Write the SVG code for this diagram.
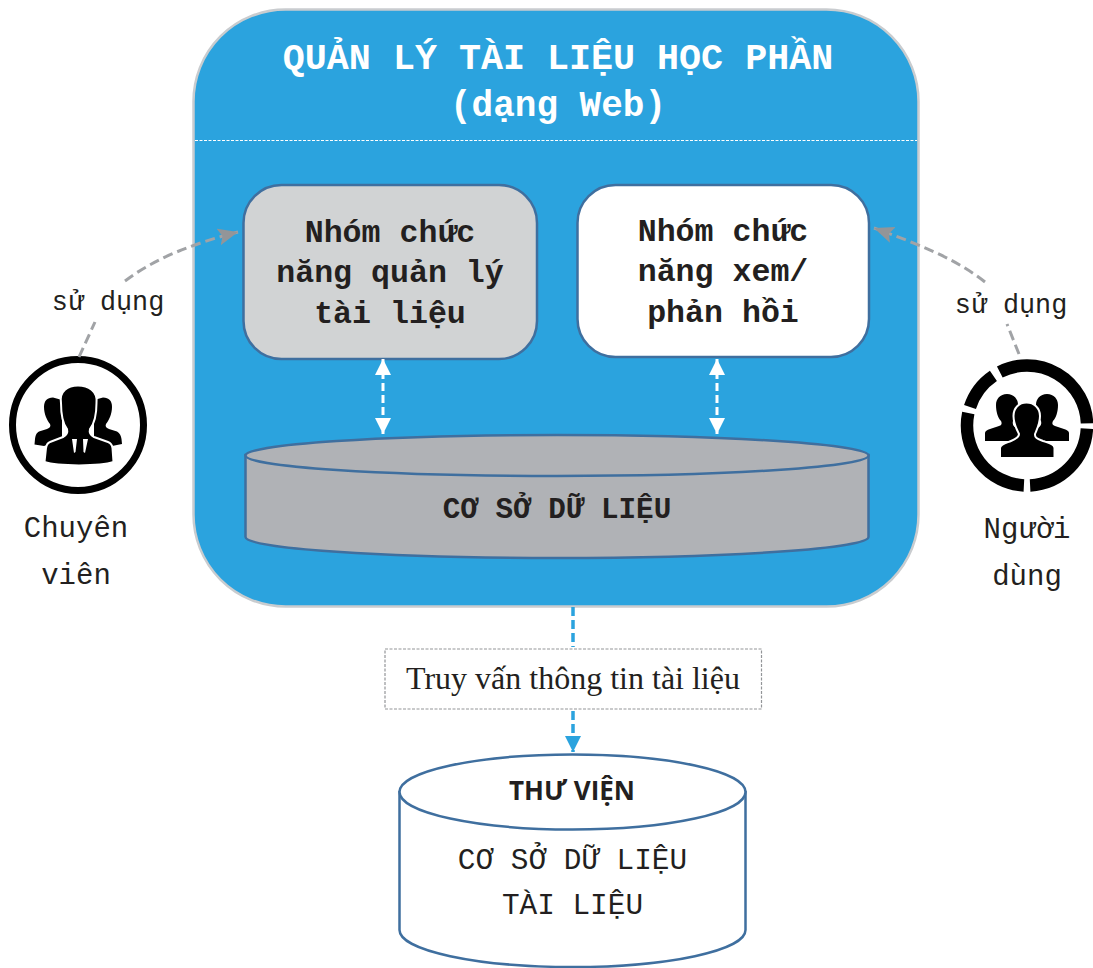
<svg xmlns="http://www.w3.org/2000/svg" width="1093" height="968" viewBox="0 0 1093 968">
<style>
.m{font-family:"Liberation Mono","DejaVu Sans Mono",monospace;text-anchor:middle;fill:#231f20}
.b{font-weight:bold}
.w{fill:#fff}
.p{stroke:#3f6f9f;stroke-width:2.5}
.g{fill:none;stroke:#a1a3a6;stroke-width:3;stroke-dasharray:10 5}
.wd{fill:none;stroke:#fff;stroke-width:3;stroke-dasharray:8 4}
.bd{fill:none;stroke:#2ba3de;stroke-width:3.500;stroke-dasharray:9 4}
.ic{fill:#000}
.f{fill:#000;stroke:#fff;stroke-width:2}
</style>
<defs>
<marker id="ag" markerUnits="userSpaceOnUse" markerWidth="22" markerHeight="18" refX="20" refY="8.500" orient="auto"><path d="M0 0L20 8.500L0 17L4 8.500Z" fill="#939598"/></marker>
<marker id="aw" markerUnits="userSpaceOnUse" markerWidth="16" markerHeight="16" refX="16" refY="8" orient="auto-start-reverse"><path d="M0 0L16 8L0 16Z" fill="#fff"/></marker>
<marker id="ab" markerUnits="userSpaceOnUse" markerWidth="16" markerHeight="16" refX="16" refY="8" orient="auto"><path d="M0 0L16 8L0 16Z" fill="#2ba3de"/></marker>
</defs>
<rect width="1093" height="968" fill="#fff"/>
<g id="main">
<rect x="193.500" y="9.500" width="725" height="597" rx="92" fill="#2ba3de" stroke="#c9cccf" stroke-width="2.500"/>
<line x1="195" y1="140.500" x2="917" y2="140.500" stroke="#fff" stroke-width="1.200" stroke-dasharray="3 1.500"/>
<text class="m b w" x="558" y="69" font-size="36.700">QUẢN LÝ TÀI LIỆU HỌC PHẦN</text>
<text class="m b w" x="558" y="116" font-size="36">(dạng Web)</text>
</g>
<g id="node-manage">
<rect class="p" x="243.500" y="185" width="293.500" height="174" rx="38" fill="#d1d3d4"/>
<text class="m b" x="390" y="242" font-size="31.600">Nhóm chức</text>
<text class="m b" x="390" y="282" font-size="31.600">năng quản lý</text>
<text class="m b" x="390" y="323" font-size="31.600">tài liệu</text>
</g>
<g id="node-view">
<rect class="p" x="577.500" y="185" width="291.500" height="172" rx="38" fill="#fff"/>
<text class="m b" x="723" y="241" font-size="31.600">Nhóm chức</text>
<text class="m b" x="723" y="281" font-size="31.600">năng xem/</text>
<text class="m b" x="723" y="322" font-size="31.600">phản hồi</text>
</g>
<g id="node-db">
<path class="p" d="M245.500 455V537A311.500 21 0 0 0 868.500 537V455Z" fill="#b0b2b6"/>
<ellipse class="p" cx="557" cy="455.500" rx="311.500" ry="20.500" fill="#b0b2b6"/>
<text class="m b" x="557" y="518" font-size="29.300">CƠ SỞ DỮ LIỆU</text>
</g>
<g id="node-query">
<rect x="385" y="649" width="376.500" height="60" fill="#fff" stroke="#939598" stroke-width="1.200" stroke-dasharray="3 1.500"/>
<text x="573" y="689" font-family="'Liberation Serif',serif" font-size="32" text-anchor="middle" fill="#231f20">Truy vấn thông tin tài liệu</text>
</g>
<g id="node-library">
<path class="p" d="M399.500 792V930A173 37 0 0 0 745.500 930V792Z" fill="#fff"/>
<ellipse class="p" cx="572.500" cy="792" rx="173" ry="37.500" fill="#fff"/>
<text x="572" y="800" font-family="'Open Sans','Noto Sans',sans-serif" font-weight="bold" font-size="26" text-anchor="middle" fill="#231f20">THƯ VIỆN</text>
<text class="m" x="572.500" y="869" font-size="29.400">CƠ SỞ DỮ LIỆU</text>
<text class="m" x="572.500" y="914" font-size="29.400">TÀI LIỆU</text>
</g>
<g id="node-staff">
<circle cx="78" cy="425" r="65.500" fill="#fff" stroke="#000" stroke-width="7"/>
<path class="ic" d="M53 397.500C47 397.500 44 401 44 407C44 414 47 420 50 424C51 426 50 428 47 429L39 431.500C36 433 35.500 436 35 439L34.500 444.500L44 446L62 440V400Z"/>
<path class="ic" d="M103 397.500C109 397.500 112 401 112 407C112 414 109 420 106 424C105 426 106 428 109 429L117 431.500C120 433 121 436 121.500 439L122 444L112 446L94 440V400Z"/>
<path class="f" d="M61 403C59 391 68 385.500 78 385.500C88 385.500 98 391 96.500 403C96.500 414 94 424 90 429C89 433 90 435 94 437L108 442C111 443 112 445 112.500 448L113.500 462C100 466.500 58 466.500 44.500 462L46 448C46.500 445 47 443 50 442L63 437C67 435 68 433 67 429C63 424 61 414 61 403Z"/>
<path d="M72 439L77 439L75.500 452L74 453ZM83 439L88 439L85 453L83.500 452Z" fill="#fff"/>
</g>
<g id="label-staff">
<text class="m" x="76" y="537" font-size="29">Chuyên</text>
<text class="m" x="76" y="584" font-size="29">viên</text>
</g>
<g id="node-user">
<path d="M999.800 372A60 60 0 0 1 1087 423.400M1086.900 428.600A60 60 0 0 1 1030.100 485.400M1023.900 485.400A60 60 0 0 1 968.300 413M970 407A60 60 0 0 1 993.400 375.800" fill="none" stroke="#000" stroke-width="12.500"/>
<path class="ic" d="M1007 394C1014 394 1018 399 1018 405C1018 412 1015 418 1013 421C1012 425 1014 427 1018 429L1030 441H985V433C985 431 987 430 990 429L999 426C1002 425 1002 423 1001 421C998 418 996 412 996 405C996 399 1000 394 1007 394Z"/>
<path class="ic" transform="matrix(-1 0 0 1 2054 0)" d="M1007 394C1014 394 1018 399 1018 405C1018 412 1015 418 1013 421C1012 425 1014 427 1018 429L1030 441H985V433C985 431 987 430 990 429L999 426C1002 425 1002 423 1001 421C998 418 996 412 996 405C996 399 1000 394 1007 394Z"/>
<path class="f" d="M1026.500 402.500C1034 402.500 1040 408 1040 416C1040 424 1036.500 430 1035 434C1034.500 438 1038 439 1043 441C1049 443 1054.500 444 1054.500 448V458H1000V448C1000.500 444 1006 443 1011 441C1016 439 1019 437 1019 434C1017 430 1013.500 424 1013.500 416C1013.500 408 1019 402.500 1026.500 402.500Z"/>
</g>
<g id="label-user">
<text class="m" x="1027" y="538" font-size="29">Người</text>
<text class="m" x="1027" y="585" font-size="29">dùng</text>
</g>
<g id="connectors">
<path class="g" d="M79 357L95 322"/>
<path class="g" d="M125 281C155 258 195 243 238 232" marker-end="url(#ag)"/>
<path class="g" d="M1019 354L1007 324"/>
<path class="g" d="M985 282C955 258 915 243 874 228" marker-end="url(#ag)"/>
<line class="wd" x1="383" y1="359" x2="383" y2="434" marker-start="url(#aw)" marker-end="url(#aw)"/>
<line class="wd" x1="717" y1="359" x2="717" y2="434" marker-start="url(#aw)" marker-end="url(#aw)"/>
<line class="bd" x1="573" y1="607" x2="573" y2="647"/>
<line class="bd" x1="573" y1="711" x2="573" y2="752" marker-end="url(#ab)"/>
</g>
<text class="m" x="108" y="310" font-size="26.800">sử dụng</text>
<text class="m" x="1011" y="313" font-size="26.800">sử dụng</text>
</svg>
